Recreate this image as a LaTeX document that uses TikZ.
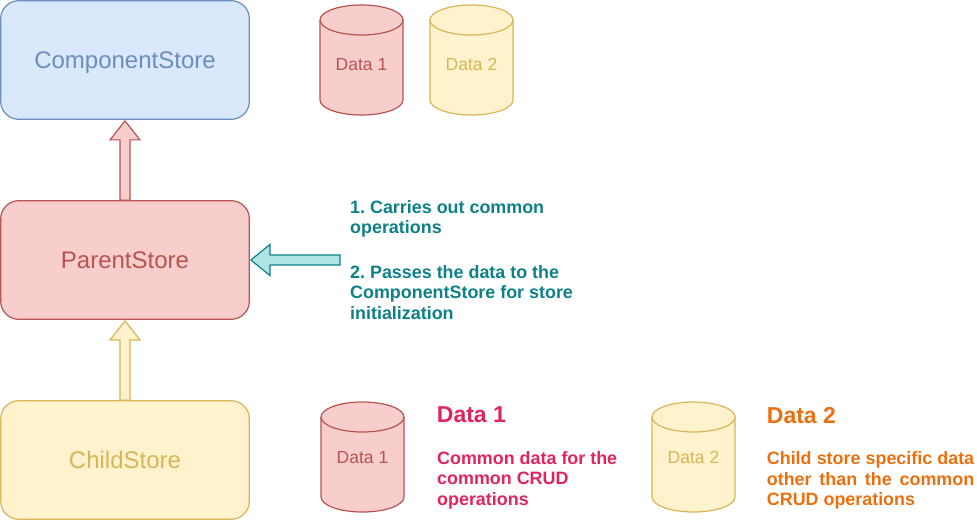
\documentclass[tikz,border=0pt]{standalone}
\usepackage{fontspec}
\setmainfont{Liberation Sans}
\frenchspacing
\usetikzlibrary{calc}
\definecolor{bluefill}{HTML}{DAE8FC}
\definecolor{bluedraw}{HTML}{6C8EBF}
\definecolor{redfill}{HTML}{F8CECC}
\definecolor{reddraw}{HTML}{B85450}
\definecolor{yelfill}{HTML}{FFF2CC}
\definecolor{yeldraw}{HTML}{D6B656}
\definecolor{cyanfill}{HTML}{B0E3E6}
\definecolor{tealdraw}{HTML}{0E8088}
\definecolor{pinktext}{HTML}{E0245E}
\definecolor{orangetext}{HTML}{EC6F0E}
\tikzset{
  store/.style={rounded corners=18pt, minimum width=248.6pt, minimum height=118.6pt,
    line width=1.2pt, inner sep=0pt, font=\fontsize{24}{28}\selectfont,
    text height=17.2pt, text depth=0pt},
  cyllabel/.style={inner sep=0pt, font=\fontsize{17.5}{21}\selectfont,
    text height=12.5pt, text depth=0pt},
  blockarrow/.style n args={2}{fill=#1, draw=#2, line width=1.2pt, line join=miter},
  notetext/.style={anchor=north west, inner sep=0pt, align=left,
    font=\frenchspacing\bfseries\fontsize{17.9}{20.6}\selectfont},
  heading/.style={anchor=north west, inner sep=0pt,
    font=\bfseries\fontsize{23}{27}\selectfont},
  pics/dbcyl/.style n args={2}{code={
    \path[fill=#1, draw=#2, line width=1.2pt]
      (-41.5,-40) -- (-41.5,40)
      arc[start angle=180, end angle=0, x radius=41.5, y radius=15]
      -- (41.5,-40)
      arc[start angle=0, end angle=-180, x radius=41.5, y radius=15] -- cycle;
    \draw[#2, line width=1.2pt] (-41.5,-40)
      arc[start angle=180, end angle=0, x radius=41.5, y radius=15];
  }}
}
\begin{document}
\begin{tikzpicture}[x=1pt, y=-1pt]
\useasboundingbox (0,0) rectangle (977,524);

% stores
\node[store, fill=bluefill, draw=bluedraw, text=bluedraw] (cs) at (125,60) {ComponentStore};
\node[store, fill=redfill, draw=reddraw, text=reddraw] (ps) at (125,260) {ParentStore};
\node[store, fill=yelfill, draw=yeldraw, text=yeldraw] (ch) at (125,460) {ChildStore};

% block arrows
\draw[blockarrow={redfill}{reddraw}]
  ($(ps.north)+(-5,0)$) |- ($(cs.south)+(-15,20)$) -- ($(cs.south)+(0,1)$)
  -- ($(cs.south)+(15,20)$) -| ($(ps.north)+(5,0)$) -- cycle;
\draw[blockarrow={yelfill}{yeldraw}]
  ($(ch.north)+(-5,0)$) |- ($(ps.south)+(-15,20)$) -- ($(ps.south)+(0,1)$)
  -- ($(ps.south)+(15,20)$) -| ($(ch.north)+(5,0)$) -- cycle;
\coordinate (src) at (340,260);
\draw[blockarrow={cyanfill}{tealdraw}]
  ($(src)+(0,-5)$) -- ($(ps.east)+(20,-5)$) -- ($(ps.east)+(20,-15.5)$)
  -- ($(ps.east)+(1,0)$) -- ($(ps.east)+(20,15.5)$) -- ($(ps.east)+(20,5)$)
  -- ($(src)+(0,5)$) -- cycle;

% cylinders
\pic at (361.5,60) {dbcyl={redfill}{reddraw}};
\node[cyllabel, text=reddraw] (d1top) at (361.5,64.2) {Data 1};
\pic at (471.5,60) {dbcyl={yelfill}{yeldraw}};
\node[cyllabel, text=yeldraw] (d2top) at (471.5,64.2) {Data 2};
\pic at (362.5,457) {dbcyl={redfill}{reddraw}};
\node[cyllabel, text=reddraw] (d1bot) at (362.5,457.7) {Data 1};
\pic at (693.5,457) {dbcyl={yelfill}{yeldraw}};
\node[cyllabel, text=yeldraw] (d2bot) at (693.5,457.7) {Data 2};

% notes
\node[notetext, text=tealdraw] (ops) at (350,200.2)
  {1. Carries out common\\operations\\[23.6pt]2. Passes the data to the\\ComponentStore for store\\initialization};

\node[heading, text=pinktext] (h1) at (436.7,406.7) {Data 1};
\node[notetext, text=pinktext] (b1) at (437,451)
  {Common data for the\\common CRUD\\operations};

\node[heading, text=orangetext] (h2) at (766.7,407.5) {Data 2};
\node[notetext, text=orangetext, text width=207.3pt, align=justify] (b2) at (766.7,451.5)
  {\hyphenpenalty=10000 Child store specific data\linebreak other than the common\linebreak CRUD operations};
\end{tikzpicture}
\end{document}
